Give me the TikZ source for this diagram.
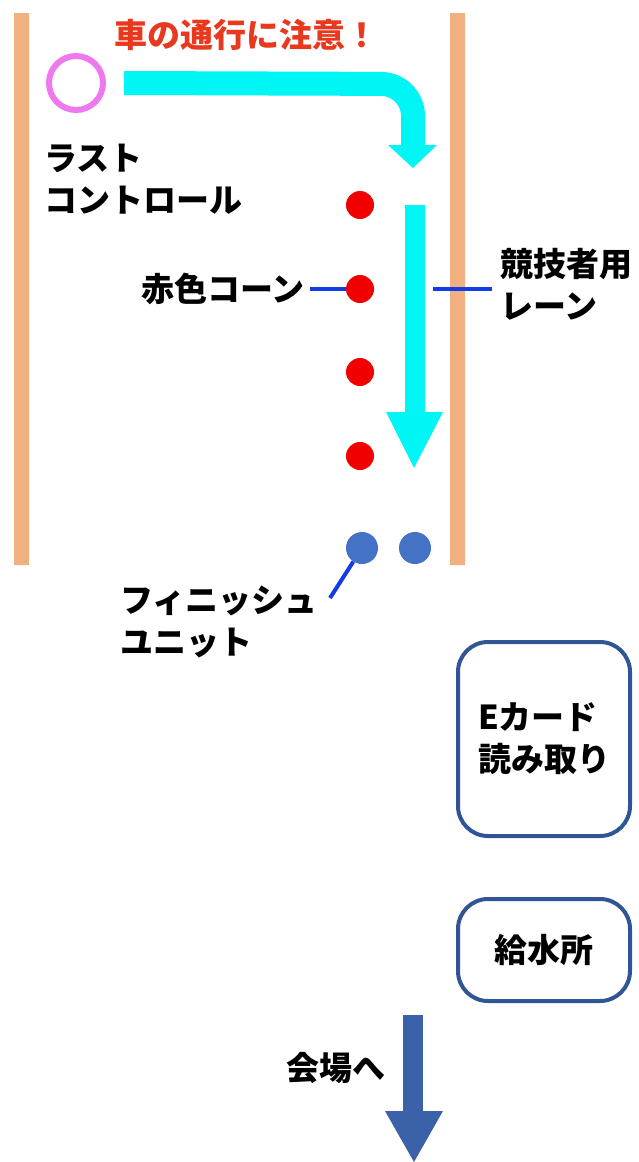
\documentclass[tikz,border=0pt]{standalone}
\usepackage{fontspec}
\setmainfont{Noto Sans CJK JP}
\usetikzlibrary{positioning}
\definecolor{lanecol}{RGB}{240,176,128}
\definecolor{flowcol}{RGB}{0,245,245}
\definecolor{conecol}{RGB}{240,0,0}
\definecolor{unitcol}{RGB}{68,114,196}
\definecolor{leadcol}{RGB}{20,60,230}
\definecolor{boxcol}{RGB}{47,85,151}
\definecolor{exitcol}{RGB}{59,98,168}
\definecolor{warncol}{RGB}{232,56,30}
\definecolor{ctlcol}{RGB}{238,120,238}
\begin{document}
\begin{tikzpicture}[x=1pt,y=-1pt,
    every node/.style={font=\fontsize{33}{42}\selectfont\bfseries,inner sep=0pt},
    cone/.style={circle,fill=conecol,minimum size=28},
    unit/.style={circle,fill=unitcol,minimum size=32},
    leader/.style={draw=leadcol,line width=4},
    station/.style={draw=boxcol,line width=4,rounded corners=30,minimum width=172,align=left}]
  \useasboundingbox (0,0) rectangle (639,1162);
  % lane borders
  \fill[lanecol] (14,13) rectangle (29,565) (450,13) rectangle (465,565);
  \node[text=warncol] (warn) at (246,35) {車の通行に注意！};
  \node[circle,draw=ctlcol,line width=6,minimum size=54] (ctl) at (76,83) {};
  \node[anchor=west,align=left] (ctllabel) at (44,179) {ラスト\\コントロール};
  % flow of the competitors
  \draw[flowcol,line width=24,rounded corners=32] (ctl.east)++(18,0) -- (413,84) -- (413,146);
  \fill[flowcol] (388,145) -- (437,145) -- (413,168) -- cycle;
  \draw[flowcol,line width=20] (415,205) -- (415,413);
  \fill[flowcol] (386,412) -- (443,412) -- (414,468) -- cycle;
  \foreach \i/\y in {1/205,2/289,3/372,4/456}
    \node[cone] (c\i) at (360,\y) {};
  \node[unit] (f1) at (362,548) {};
  \node[unit] (f2) at (415,548) {};
  % labels
  \node[anchor=east] (conelabel) at (305,289) {赤色コーン};
  \draw[leader] ([xshift=5pt]conelabel.east) -- (c2.west);
  \coordinate (lanept) at (433,289);
  \node[anchor=west,align=left] (lanelabel) at (500,284) {競技者用\\レーン};
  \draw[leader] (lanept) -- ([xshift=-8pt]lanept -| lanelabel.west);
  \node[anchor=north west,align=left] (finlabel) at (120,586) {フィニッシュ\\ユニット};
  \coordinate (finpt) at (330,598);
  \draw[leader] (finpt) -- (f1);
  \node[station,minimum height=194] (ecard) at (544,739) {Eカード\\読み取り};
  \node[station,minimum height=102] (water) at (544,950) {給水所};
  % way out
  \coordinate (exitfrom) at (413,1015);
  \coordinate (exitto) at (414,1162);
  \draw[exitcol,line width=20] (exitfrom) -- (413,1112);
  \fill[exitcol] (385,1111) -- (443,1111) -- (exitto) -- cycle;
  \node[anchor=east] (exitlabel) at (386,1068) {会場へ};
\end{tikzpicture}
\end{document}
